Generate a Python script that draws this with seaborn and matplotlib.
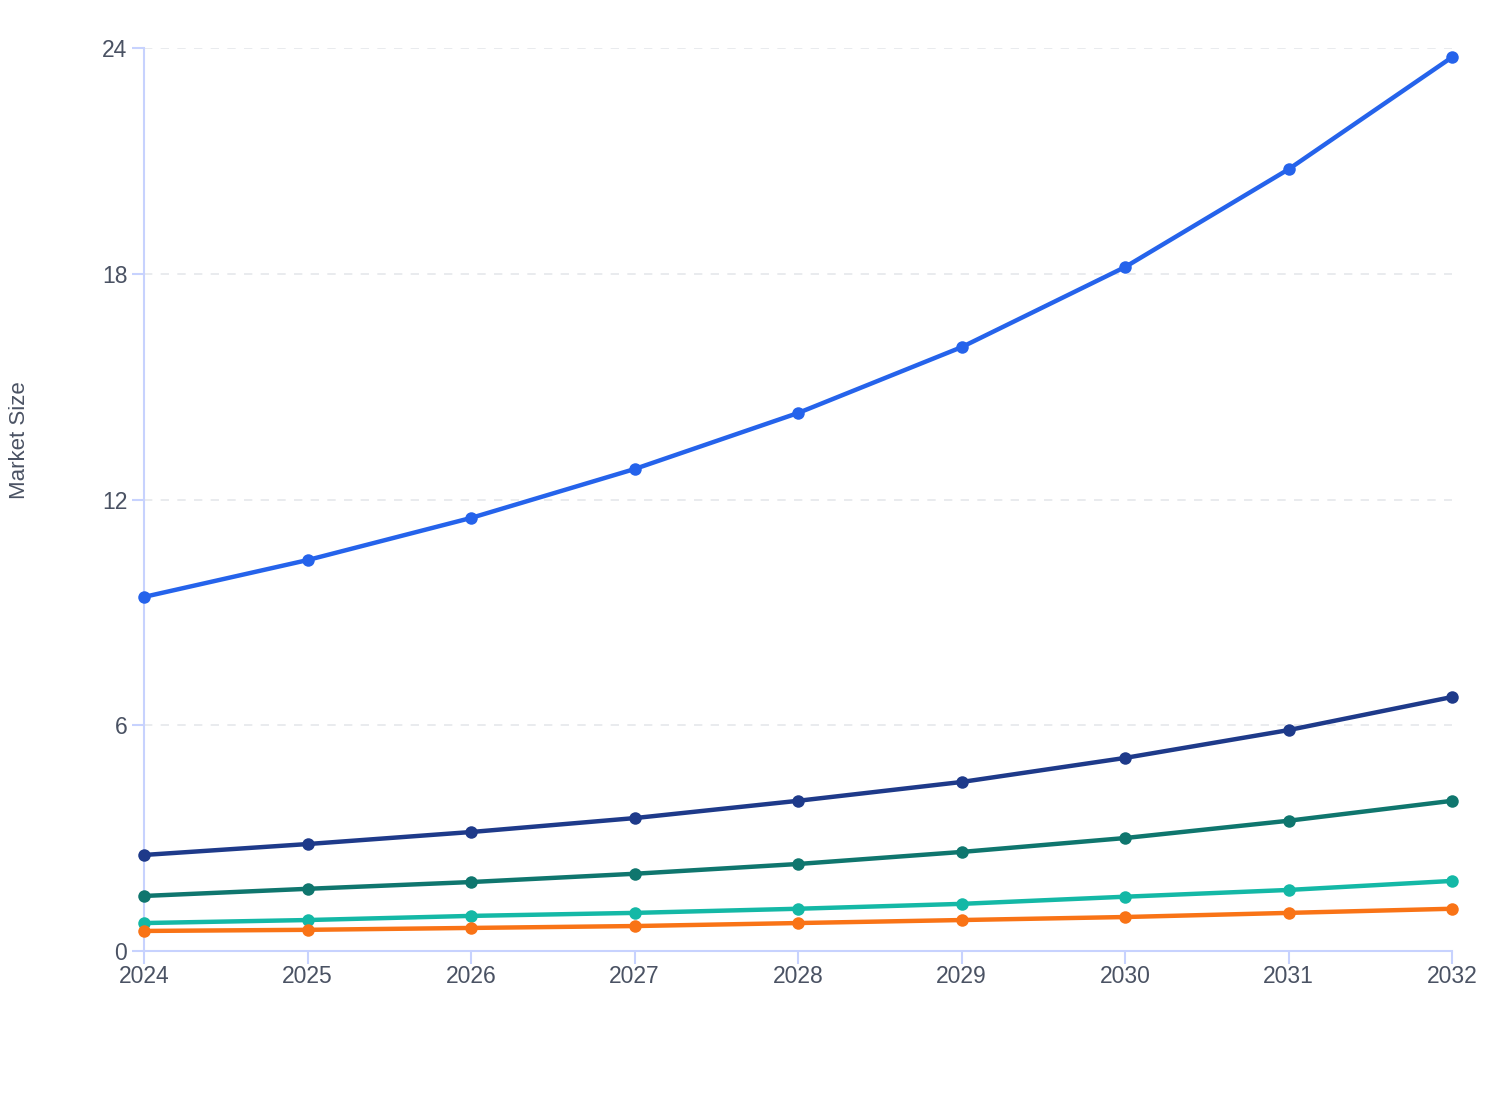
import matplotlib
matplotlib.use("Agg")
import matplotlib.pyplot as plt
import seaborn as sns
import pandas as pd

years = [2024, 2025, 2026, 2027, 2028, 2029, 2030, 2031, 2032]
series_a = [9.41, 10.39, 11.51, 12.81, 14.30, 16.05, 18.18, 20.78, 23.76]
series_b = [2.55, 2.84, 3.16, 3.53, 3.99, 4.49, 5.13, 5.87, 6.75]
series_c = [1.46, 1.65, 1.83, 2.05, 2.31, 2.63, 3.00, 3.46, 3.99]
series_d = [0.74, 0.82, 0.93, 1.01, 1.12, 1.25, 1.44, 1.62, 1.86]
series_e = [0.53, 0.56, 0.61, 0.66, 0.74, 0.82, 0.90, 1.01, 1.12]
names = ["Series A", "Series B", "Series C", "Series D", "Series E"]
colors = ["#2563eb", "#1e3a8a", "#0f766e", "#14b8a6", "#f97316"]

rows = []
for name, vals in zip(names, [series_a, series_b, series_c, series_d, series_e]):
    for y, v in zip(years, vals):
        rows.append({"Year": y, "Value": v, "Series": name})
df = pd.DataFrame(rows)

sns.set_style("white")
plt.rcParams['font.family'] = ['Liberation Sans', 'DejaVu Sans']

fig = plt.figure(figsize=(15.08, 11.2), dpi=100)
ax = fig.add_axes([0.0955, 0.151, 0.8674, 0.806])

axis_col = "#c7d2fe"
text_col = "#4a5263"

for y in [6, 12, 18, 24]:
    ax.axhline(y, color="#e5e7eb", lw=1.2, ls=(0, (5, 5)), zorder=0)

sns.lineplot(data=df, x="Year", y="Value", hue="Series", palette=colors,
             hue_order=names, lw=3.2, marker="o", markersize=9,
             markeredgewidth=0, legend=False, ax=ax, clip_on=False, zorder=3)

ax.set_xlim(2024, 2032)
ax.set_ylim(0, 24)
ax.set_xticks(years)
ax.set_yticks([0, 6, 12, 18, 24])
ax.tick_params(axis="both", bottom=True, left=True, colors=axis_col,
               labelcolor=text_col, labelsize=16.5, length=9, width=1.5)
ax.tick_params(axis="x", pad=1.5)
ax.tick_params(axis="y", pad=3)

for side in ["top", "right"]:
    ax.spines[side].set_visible(False)
for side in ["left", "bottom"]:
    ax.spines[side].set_color(axis_col)
    ax.spines[side].set_linewidth(1.5)

ax.set_xlabel("")
ax.set_ylabel("Market Size", fontsize=16, color=text_col)
ax.yaxis.set_label_coords(-0.087, 0.566)

fig.savefig("out.png", dpi=100, facecolor="white")
